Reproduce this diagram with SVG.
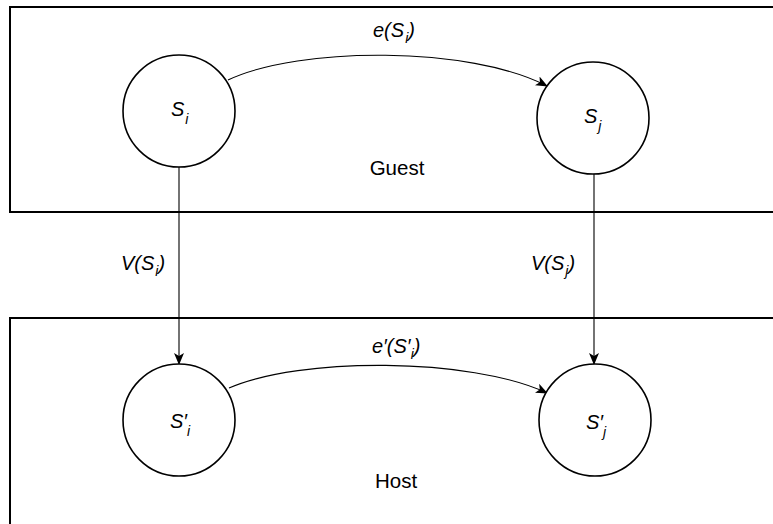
<svg xmlns="http://www.w3.org/2000/svg" width="773" height="524" viewBox="0 0 773 524">
<style>
.box{fill:none;stroke:#000;stroke-width:2}
.node{fill:#fff;stroke:#000;stroke-width:1.6}
.conn{fill:none;stroke:#000;stroke-width:1.1}
.lbl{font-family:"Liberation Sans",Arial,sans-serif;font-size:20px;fill:#000}
.it{font-style:italic}
.sub{font-size:14px}
</style>
<defs>
<marker id="arr" viewBox="0 0 12 10" refX="11" refY="5" markerWidth="12" markerHeight="10" markerUnits="userSpaceOnUse" orient="auto">
<path d="M0,0 L12,5 L0,10 L3,5 z" fill="#000"/>
</marker>
</defs>
<rect width="773" height="524" fill="#fff"/>
<g id="guest">
<rect class="box" x="10" y="7" width="800" height="205"/>
<text class="lbl" x="397" y="175" text-anchor="middle" style="font-size:20.5px">Guest</text>
</g>
<g id="host">
<rect class="box" x="10" y="318" width="800" height="260"/>
<text class="lbl" x="396" y="488" text-anchor="middle" style="font-size:20.5px">Host</text>
</g>
<g id="connectors">
<path class="conn" d="M228,80 C300,46 470,46 547,86" marker-end="url(#arr)"/>
<path class="conn" d="M229,388 C300,357 470,357 547,393" marker-end="url(#arr)"/>
<path class="conn" d="M179,167 L179,364" marker-end="url(#arr)"/>
<path class="conn" d="M594,173 L594,364" marker-end="url(#arr)"/>
<text class="lbl it" x="373" y="37">e(S<tspan class="sub" dx="1" dy="6">i</tspan><tspan dy="-6">)</tspan></text>
<text class="lbl it" x="372" y="353">e′(S′<tspan class="sub" dy="6">i</tspan><tspan dy="-6">)</tspan></text>
<text class="lbl it" x="121" y="270">V(S<tspan class="sub" dx="1" dy="6">i</tspan><tspan dy="-6">)</tspan></text>
<text class="lbl it" x="531" y="270">V(S<tspan class="sub" dx="1" dy="6">j</tspan><tspan dy="-6">)</tspan></text>
</g>
<g id="Si">
<circle class="node" cx="179" cy="111" r="56"/>
<text class="lbl it" x="171" y="116">S<tspan class="sub" dx="1" dy="8">i</tspan></text>
</g>
<g id="Sj">
<circle class="node" cx="593" cy="118" r="56"/>
<text class="lbl it" x="584" y="123">S<tspan class="sub" dx="1" dy="8">j</tspan></text>
</g>
<g id="Si_prime">
<circle class="node" cx="179" cy="420" r="56"/>
<text class="lbl it" x="170" y="428">S′<tspan class="sub" dy="8">i</tspan></text>
</g>
<g id="Sj_prime">
<circle class="node" cx="595" cy="420" r="56"/>
<text class="lbl it" x="586" y="429">S′<tspan class="sub" dy="8">j</tspan></text>
</g>
</svg>
